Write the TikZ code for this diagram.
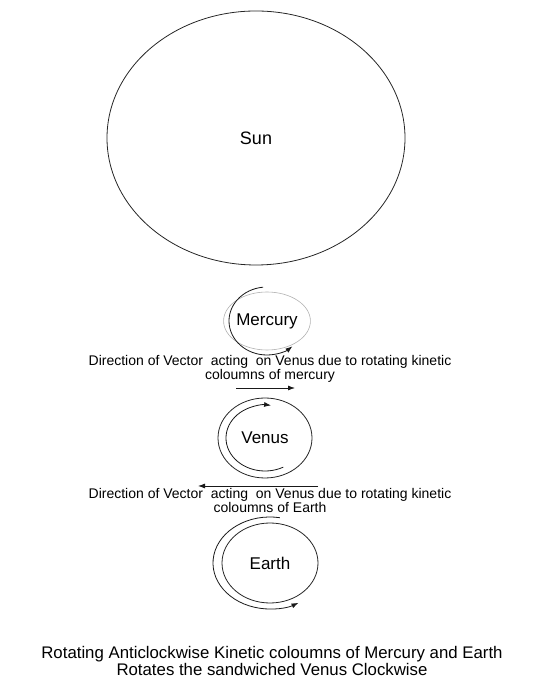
\documentclass[tikz,border=0pt]{standalone}
\usepackage{fontspec}
\setmainfont{Liberation Sans}
\usetikzlibrary{shapes.geometric, arrows.meta}

\tikzset{
    body/.style={ellipse, draw=black!85, line width=0.8pt, inner sep=0pt},
    spin/.style={-{Latex[length=7pt, width=5pt]}, black!90, line width=0.8pt},
    note/.style={align=center, font=\fontsize{14}{14}\selectfont}
}

\begin{document}
\begin{tikzpicture}[x=1pt, y=1pt]
    \useasboundingbox (0,0) rectangle (533,682);
    % 太陽と惑星
    \node[body, minimum width=298, minimum height=254, font=\fontsize{18}{18}\selectfont] (sun) at (256,544) {Sun};
    \node[body, draw=black!30, line width=0.6pt, minimum width=66, minimum height=58, font=\fontsize{17}{17}\selectfont] (mercury) at (267,361) {Mercury};
    \node[body, minimum width=94, minimum height=80, font=\fontsize{17}{17}\selectfont] (venus) at (265,244) {Venus};
    \node[body, minimum width=96, minimum height=80, font=\fontsize{17}{17}\selectfont] (earth) at (270,119) {Earth};

    % 運動柱の回転
    \draw[spin] ([shift={(96:38 and 34)}]mercury.center) arc[start angle=96, end angle=312, x radius=38, y radius=34];
    \draw[spin] ([shift={(-62:39 and 33)}]venus.center) arc[start angle=-62, end angle=-279, x radius=39, y radius=33];
    \draw[spin] ([shift={(80:57 and 46)}]earth.center) arc[start angle=80, end angle=300, x radius=57, y radius=46];

    % 金星に働くベクトル
    \node[note] (upnote) at (270,313) {Direction of Vector\ \ acting\ \ on Venus due to rotating kinetic\\coloumns of mercury};
    \coordinate (mvA) at (236,294);
    \coordinate (mvB) at (295,294);
    \draw[spin] (mvA) -- (mvB);
    \coordinate (evA) at (318,196);
    \coordinate (evB) at (198,196);
    \draw[spin] (evA) -- (evB);
    \node[note] (lownote) at (270,181.5) {Direction of Vector\ \ acting\ \ on Venus due to rotating kinetic\\coloumns of Earth};

    % 結論
    \node[align=center, font=\fontsize{16.8}{17}\selectfont] (summary) at (272,21) {Rotating Anticlockwise Kinetic coloumns of Mercury and Earth\\Rotates the sandwiched Venus Clockwise};
\end{tikzpicture}
\end{document}
